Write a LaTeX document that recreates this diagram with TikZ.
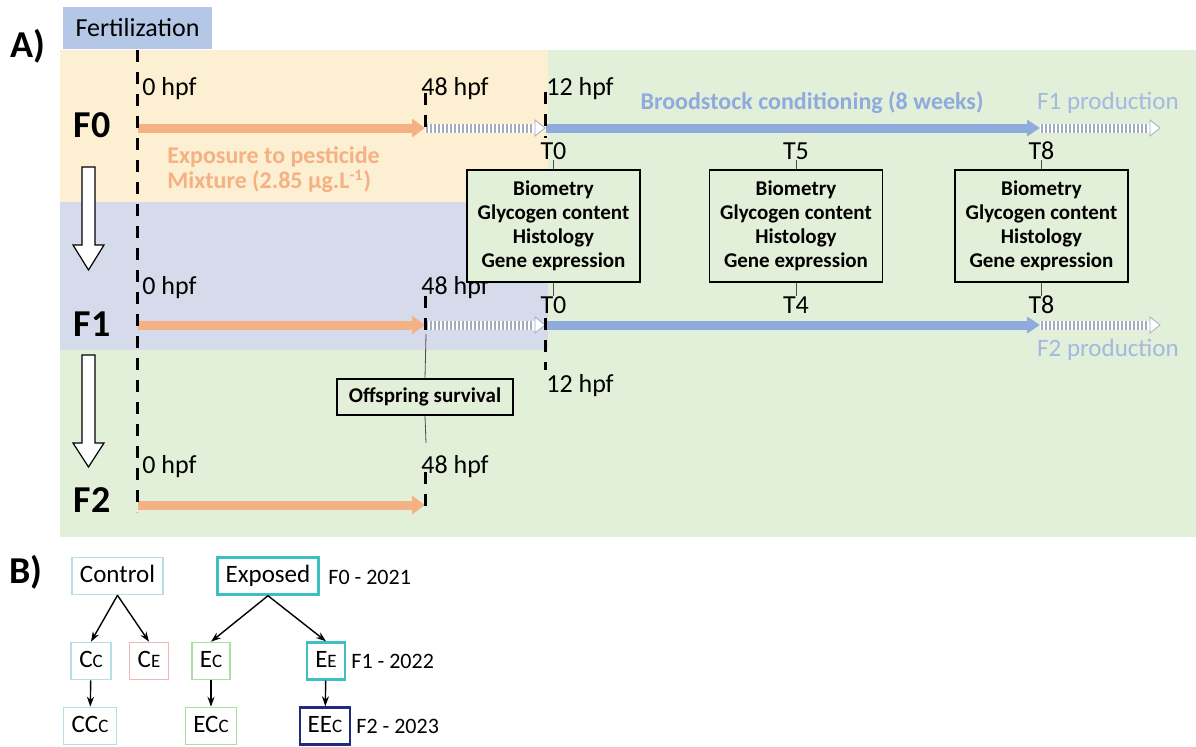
\documentclass[tikz,border=0pt]{standalone}
\usepackage{fontspec}
\setmainfont{Carlito}
\usetikzlibrary{arrows.meta}
\definecolor{bgorange}{HTML}{FDEFD1}
\definecolor{bgblue}{HTML}{D5DBEA}
\definecolor{bggreen}{HTML}{E2EFD9}
\definecolor{fertblue}{HTML}{B4C7E7}
\definecolor{exporange}{HTML}{F4B183}
\definecolor{broodblue}{HTML}{8FAADC}
\definecolor{prodblue}{HTML}{A3B9E0}
\definecolor{stripegray}{HTML}{A4ADC0}
\definecolor{ctrlblue}{HTML}{B7DEE8}
\definecolor{cepink}{HTML}{F2B6B6}
\definecolor{ecgreen}{HTML}{A9DFA1}
\definecolor{expteal}{HTML}{3DBFC3}
\definecolor{eecnavy}{HTML}{1F2A80}
\newcommand{\smc}[1]{{\fontsize{9.5}{10}\selectfont #1}}

\begin{document}
\begin{tikzpicture}[x=0.5pt,y=-0.5pt]
    \tikzstyle{lbl}=[font=\fontsize{13}{15}\selectfont,inner sep=0pt]
    \tikzstyle{gen}=[font=\bfseries\fontsize{19}{21}\selectfont,inner sep=0pt]
    \tikzstyle{tick}=[line width=1.5pt,dash pattern=on 6pt off 5pt]
    \tikzstyle{sample}=[rectangle,draw=black,line width=0.6pt,fill=bggreen,align=center,
        font=\bfseries\fontsize{10.5}{12}\selectfont,minimum width=86.5pt,minimum height=56pt,inner sep=0pt]
    \tikzstyle{orangearr}=[draw=exporange,line width=4.5pt,-{Triangle[length=6.5pt,width=9pt]}]
    \tikzstyle{bluearr}=[draw=broodblue,line width=4.5pt,-{Triangle[length=6.5pt,width=8pt]}]
    \tikzstyle{stripe}=[draw=stripegray,line width=0.9pt]
    \tikzstyle{grp}=[rectangle,draw,line width=0.8pt,minimum height=18.5pt,inner xsep=4pt,
        text height=9pt,text depth=2.5pt,font=\fontsize{12.5}{14}\selectfont]
    \tikzstyle{yr}=[font=\fontsize{11}{13}\selectfont,anchor=west,inner sep=0pt]
    \tikzstyle{link}=[line width=0.7pt,-{Stealth[length=5pt,width=3.5pt]}]

    \useasboundingbox (0,0) rectangle (1196,746);

    % backgrounds
    \fill[bggreen] (60,50) rectangle (1196,537);
    \fill[bgorange] (60,50) rectangle (548,202);
    \fill[bgblue] (60,202) rectangle (548,350);

    \node[fill=fertblue,minimum width=74.5pt,minimum height=21pt,inner sep=0pt,
        font=\fontsize{13}{15}\selectfont] (fert) at (137.5,28) {Fertilization};
    \node[gen] (partA) at (28,46) {A)};
    \node[gen] (partB) at (26,572) {B)};

    % generations
    \node[gen] (F0) at (92,125) {F0};
    \node[gen] (F1) at (92,324) {F1};
    \node[gen] (F2) at (92,500) {F2};
    \foreach \ya/\yb/\yc in {167/245/270, 355/443/467}
        \draw[fill=white,line width=0.6pt] (82,\ya) -- (95,\ya) -- (95,\yb) -- (104,\yb)
            -- (88.5,\yc) -- (73,\yb) -- (82,\yb) -- cycle;

    % time line arrows
    \foreach \r/\y in {0/128, 1/325} {
        \coordinate (r\r s) at (138,\y);
        \coordinate (r\r a) at (425,\y);
        \coordinate (r\r b) at (546,\y);
        \coordinate (r\r c) at (1040,\y);
        \draw[orangearr] (r\r s) -- (r\r a);
        \draw[bluearr] (r\r b) -- (r\r c);
    };
    \coordinate (r2s) at (138,505);
    \coordinate (r2a) at (425,505);
    \draw[orangearr] (r2s) -- (r2a);

    \foreach \xa/\y in {425/128, 1040/128, 425/325, 1040/325} {
        \fill[white] (\xa,\y-4.5) rectangle (\xa+111,\y+4.5);
        \foreach \s in {2,6,...,106}
            \draw[stripe] (\xa+\s,\y-4.5) -- (\xa+\s,\y+4.5);
        \filldraw[fill=white,draw=stripegray,line width=0.4pt]
            (\xa+110,\y-8) -- (\xa+120,\y) -- (\xa+110,\y+8) -- cycle;
    };

    % fertilization line and ticks
    \coordinate (top) at (137,50);
    \coordinate (bot) at (137,512);
    \draw[tick] (top) -- (bot);
    \draw[tick] (425,93) -- (425,135);
    \draw[tick] (545,92) -- (545,138);
    \draw[tick] (425,296) -- (425,334);
    \draw[tick] (545,318) -- (545,370);
    \draw[tick] (425,472) -- (425,512);

    % hpf labels
    \node[lbl,anchor=base west] (h00) at (142,95) {0 hpf};
    \node[lbl,anchor=base west] (h48a) at (421,95) {48 hpf};
    \node[lbl,anchor=base west] (h12a) at (546,95) {12 hpf};
    \node[lbl,anchor=base west] (h01) at (142,294) {0 hpf};
    \node[lbl,anchor=base west] (h48b) at (421,294) {48 hpf};
    \node[lbl,anchor=base west] (h12b) at (546,392) {12 hpf};
    \node[lbl,anchor=base west] (h02) at (142,473) {0 hpf};
    \node[lbl,anchor=base west] (h48c) at (421,473) {48 hpf};

    \node[font=\bfseries\fontsize{12}{12.5}\selectfont,text=exporange,align=left,
        anchor=west,inner sep=0pt] (expo text) at (167,170)
        {Exposure to pesticide\\Mixture (2.85 µg.L\textsuperscript{-1})};
    \node[font=\bfseries\fontsize{12}{14}\selectfont,text=broodblue,inner sep=0pt]
        (brood) at (812,103) {Broodstock conditioning (8 weeks)};
    \node[font=\fontsize{12.5}{14}\selectfont,text=prodblue,inner sep=0pt]
        (prod1) at (1108,103) {F1 production};
    \node[font=\fontsize{12.5}{14}\selectfont,text=prodblue,inner sep=0pt]
        (prod2) at (1108,350) {F2 production};

    % sampling points
    \foreach \n/\x/\ta/\tb in {0/553.5/T0/T0, 5/796/T5/T4, 8/1041.5/T8/T8} {
        \node[sample] (m\n) at (\x,226) {Biometry\\Glycogen content\\Histology\\Gene expression};
        \node[lbl] (ta\n) at (\x,151) {\ta};
        \node[lbl] (tb\n) at (\x,305) {\tb};
        \draw[black!70,line width=0.4pt] (ta\n.south) -- (m\n.north);
        \draw[black!70,line width=0.4pt] (m\n.south) -- (tb\n.north);
    };

    \node[rectangle,draw=black,line width=0.6pt,fill=bggreen,minimum width=88pt,
        minimum height=18pt,font=\bfseries\fontsize{10.5}{12}\selectfont] (surv) at (425,397)
        {Offspring survival};
    \coordinate (sv1) at (426,334);
    \coordinate (sv2) at (426,443);
    \draw[black!70,line width=0.4pt] (sv1) -- (surv.north);
    \draw[black!70,line width=0.4pt] (surv.south) -- (sv2);

    % B) groups
    \node[grp,draw=ctrlblue] (ctrl) at (117.5,576) {Control};
    \node[grp,draw=expteal,line width=1.2pt] (expd) at (268,576) {Exposed};
    \node[grp,draw=ctrlblue] (cc) at (91,661) {C\smc{C}};
    \node[grp,draw=cepink] (ce) at (149,661) {C\smc{E}};
    \node[grp,draw=ecgreen] (ec) at (211,661) {E\smc{C}};
    \node[grp,draw=expteal,line width=1.2pt] (ee) at (326,661) {E\smc{E}};
    \node[grp,draw=ctrlblue] (ccc) at (90,726) {CC\smc{C}};
    \node[grp,draw=ecgreen] (ecc) at (211,726) {EC\smc{C}};
    \node[grp,draw=eecnavy,line width=1.2pt] (eec) at (325,726) {EE\smc{C}};

    \node[yr] (y0) at (328,577) {F0 - 2021};
    \node[yr] (y1) at (351,661) {F1 - 2022};
    \node[yr] (y2) at (356,726) {F2 - 2023};

    \draw[link] (ctrl.south) -- (cc.north);
    \draw[link] (ctrl.south) -- (ce.north);
    \draw[link] (expd.south) -- (ec.north);
    \draw[link] (expd.south) -- (ee.north);
    \draw[link] (cc) -- (ccc);
    \draw[link] (ec) -- (ecc);
    \draw[link] (ee) -- (eec);
\end{tikzpicture}
\end{document}
